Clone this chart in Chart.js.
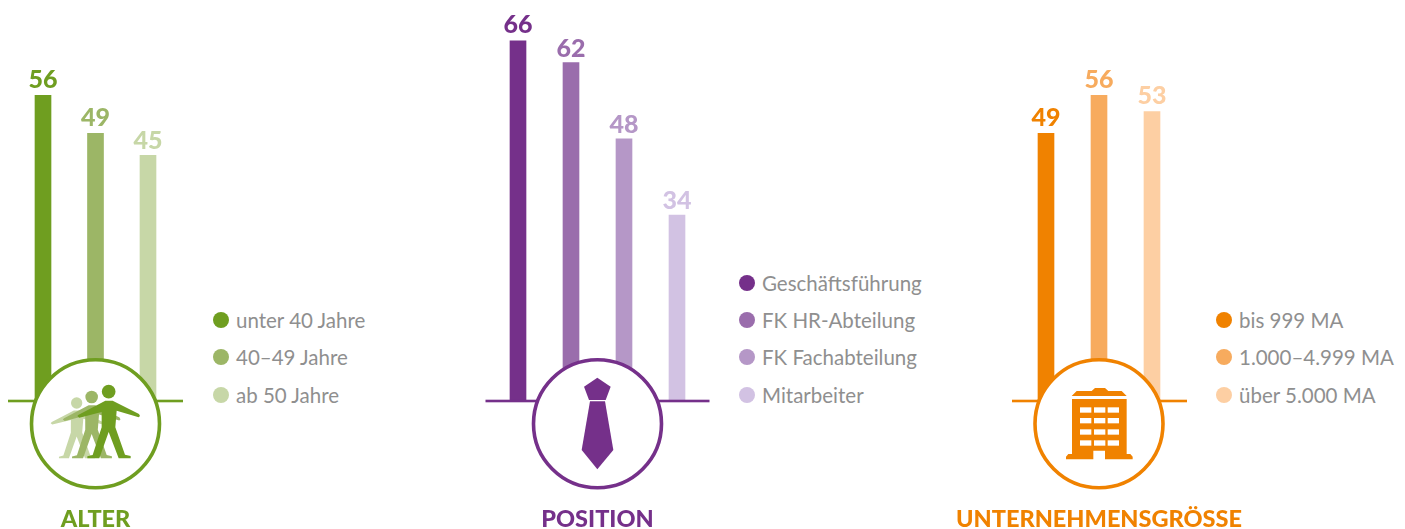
<!DOCTYPE html>
<html lang="de">
<head>
<meta charset="utf-8">
<title>Alter, Position, Unternehmensgröße</title>
<script src="https://cdn.jsdelivr.net/npm/chart.js@4"></script>
<style>
    html, body { margin: 0; background: #fff; }
    body { position: relative; width: 1405px; height: 529px; overflow: hidden; font-family: Lato, sans-serif; }
    canvas { position: absolute; top: 0; }
    .title { position: absolute; top: 502.5px; transform: translateX(-50%); font-size: 23.5px; line-height: 30px; font-weight: 900; white-space: nowrap; }
    .item { position: absolute; transform: translateY(-50%); font-size: 20.5px; line-height: 24px; color: #8f8f8f; white-space: nowrap; }
    .dot { position: absolute; width: 16px; height: 16px; border-radius: 50%; transform: translate(-50%, -50%); }
</style>
</head>
<body>
<script>
    // values
    const age_labels = ['unter 40 Jahre', '40–49 Jahre', 'ab 50 Jahre'];
    const age_values = [56, 49, 45];
    const age_colors = ['#6f9e20', '#9cb666', '#c7d7a7'];

    const position_labels = ['Geschäftsführung', 'FK HR-Abteilung', 'FK Fachabteilung', 'Mitarbeiter'];
    const position_values = [66, 62, 48, 34];
    const position_colors = ['#75308a', '#9a6dac', '#b597c7', '#d2c2e3'];

    const size_labels = ['bis 999 MA', '1.000–4.999 MA', 'über 5.000 MA'];
    const size_values = [49, 56, 53];
    const size_colors = ['#f08200', '#f7ab5e', '#fdcfa3'];

    const panel_titles = ['ALTER', 'POSITION', 'UNTERNEHMENSGRÖSSE'];

    // page layout
    const plot_top = 19, plot_bottom = 400.5, axis_max = 70;
    const circle_y = 423.7, circle_r = 64;
    const panels = [
        {title: panel_titles[0], labels: age_labels, values: age_values, colors: age_colors,
         left: 0, width: 200, first: 43, step: 52.5, line: [8, 183], cx: 95.5, icon: draw_people,
         label_gap: [7.5, 7.5, 6.5], dot_x: 221, text_x: 236, rows: [319.5, 357, 394.5]},
        {title: panel_titles[1], labels: position_labels, values: position_values, colors: position_colors,
         left: 470, width: 250, first: 518, step: 53, line: [485.5, 709.5], cx: 597.5, icon: draw_tie,
         label_gap: [7.5, 5.5, 5.5, 6.5], dot_x: 747, text_x: 762, rows: [282.5, 319.5, 357, 394.5]},
        {title: panel_titles[2], labels: size_labels, values: size_values, colors: size_colors,
         left: 1000, width: 200, first: 1046, step: 53, line: [1012, 1187], cx: 1099, icon: draw_building,
         label_gap: [7.5, 7, 7.5], dot_x: 1224, text_x: 1239, rows: [319.5, 357, 394.5]}
    ];

    function polygon(ctx, points) {
        ctx.beginPath();
        points.forEach(function (p, i) {
            if (i === 0) {
                ctx.moveTo(p[0], p[1]);
            } else {
                ctx.lineTo(p[0], p[1]);
            }
        });
        ctx.closePath();
        ctx.fill();
    }

    // icon outlines are in the units of a 3x crop, hence the scale(1/3) below
    function draw_person(ctx, head_x, scale, color) {
        const feet_y = 355;
        ctx.save();
        ctx.translate(head_x, feet_y);
        ctx.scale(scale, scale);
        ctx.translate(-326, -feet_y);
        ctx.fillStyle = color;
        ctx.beginPath();
        ctx.arc(326, 155, 20.5, 0, Math.PI * 2);
        ctx.fill();
        polygon(ctx, [
            [316, 182], [338, 182], [417, 222], [420, 228], [416, 232], [350, 212], [346, 262],
            [375, 344], [392, 348], [392, 355], [356, 355], [326, 276], [298, 355], [262, 355],
            [262, 349], [278, 345], [305, 262], [305, 216], [238, 233], [232, 228], [236, 224]
        ]);
        ctx.restore();
    }

    function draw_people(ctx) {
        ctx.save();
        ctx.translate(0, 340);
        ctx.scale(1 / 3, 1 / 3);
        draw_person(ctx, 230, 0.83, age_colors[2]);
        draw_person(ctx, 275, 0.92, age_colors[1]);
        draw_person(ctx, 326, 1, age_colors[0]);
        ctx.restore();
    }

    function draw_tie(ctx) {
        ctx.save();
        ctx.translate(480, 340);
        ctx.scale(1 / 3, 1 / 3);
        ctx.fillStyle = position_colors[0];
        polygon(ctx, [[352, 113], [392, 140], [377, 180], [327, 180], [312, 140]]);
        polygon(ctx, [[330, 184], [375, 184], [400, 330], [352, 388], [305, 330]]);
        ctx.restore();
    }

    function draw_building(ctx) {
        ctx.save();
        ctx.translate(950, 340);
        ctx.scale(1 / 3, 1 / 3);
        ctx.fillStyle = size_colors[0];
        polygon(ctx, [[365, 168], [380, 153], [425, 153], [435, 144], [465, 144], [475, 153], [515, 153], [530, 168]]);
        polygon(ctx, [
            [366, 177], [530, 177], [530, 342], [541, 342], [548, 350], [548, 358], [465, 358], [465, 332],
            [430, 332], [430, 358], [348, 358], [348, 350], [355, 342], [366, 342]
        ]);
        ctx.fillStyle = '#fff';
        [390, 432, 473].forEach(function (x) {
            [202, 234, 268, 301].forEach(function (y) {
                ctx.fillRect(x, y, 34, 16);
            });
        });
        ctx.restore();
    }

    const decoration = {
        id: 'decoration',
        afterDatasetsDraw(chart, args, options) {
            const ctx = chart.ctx, panel = options.panel;
            ctx.save();
            // value labels
            ctx.font = '900 25px Lato, sans-serif';
            ctx.textAlign = 'center';
            ctx.textBaseline = 'alphabetic';
            chart.getDatasetMeta(0).data.forEach(function (bar, i) {
                ctx.fillStyle = panel.colors[i];
                ctx.fillText(panel.values[i], bar.x, bar.y - panel.label_gap[i]);
            });
            ctx.translate(-panel.left, 0);
            // base line, circle and icon sit on top of the bars
            ctx.fillStyle = panel.colors[0];
            ctx.fillRect(panel.line[0], 399.7, panel.line[1] - panel.line[0], 2.6);
            ctx.beginPath();
            ctx.arc(panel.cx, circle_y, circle_r, 0, Math.PI * 2);
            ctx.fillStyle = '#fff';
            ctx.fill();
            ctx.lineWidth = 3.6;
            ctx.strokeStyle = panel.colors[0];
            ctx.stroke();
            panel.icon(ctx);
            ctx.restore();
        }
    };

    function add_text(cls, text, x, y, color) {
        const el = document.createElement('div');
        el.className = cls;
        el.textContent = text;
        el.style.left = x + 'px';
        if (y !== null) {
            el.style.top = y + 'px';
        }
        if (color) {
            el.style.color = color;
        }
        document.body.appendChild(el);
    }

    panels.forEach(function (panel) {
        const canvas = document.createElement('canvas');
        canvas.width = panel.width;
        canvas.height = 529;
        canvas.style.left = panel.left + 'px';
        document.body.appendChild(canvas);

        const plot_left = panel.first - panel.step / 2 - panel.left;
        const plot_right = plot_left + panel.step * panel.values.length;
        new Chart(canvas, {
            type: 'bar',
            plugins: [decoration],
            data: {
                labels: panel.labels,
                datasets: [{
                    data: panel.values,
                    backgroundColor: panel.colors,
                    barThickness: 16
                }]
            },
            options: {
                responsive: false,
                animation: false,
                layout: {
                    padding: {
                        left: plot_left,
                        right: panel.width - plot_right,
                        top: plot_top,
                        bottom: 529 - plot_bottom
                    }
                },
                scales: {
                    x: {display: false},
                    y: {display: false, min: 0, max: axis_max}
                },
                plugins: {
                    legend: {display: false},
                    tooltip: {enabled: false},
                    decoration: {panel: panel}
                }
            }
        });

        add_text('title', panel.title, panel.cx, null, panel.colors[0]);
        panel.labels.forEach(function (label, i) {
            const dot = document.createElement('div');
            dot.className = 'dot';
            dot.style.left = panel.dot_x + 'px';
            dot.style.top = panel.rows[i] + 'px';
            dot.style.background = panel.colors[i];
            document.body.appendChild(dot);
            add_text('item', label, panel.text_x, panel.rows[i]);
        });
    });
</script>
</body>
</html>
